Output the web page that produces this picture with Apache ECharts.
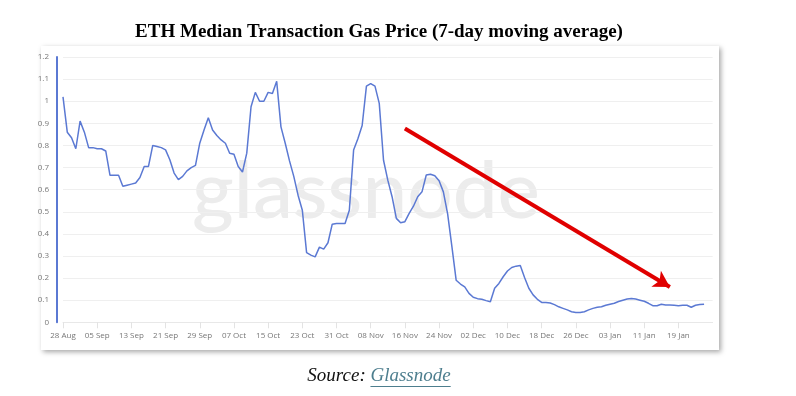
<!DOCTYPE html>
<html>
<head>
<meta charset="utf-8">
<script src="https://cdn.jsdelivr.net/npm/echarts@6/dist/echarts.min.js"></script>
<style>
  html, body { margin: 0; padding: 0; background: #fff; }
  #chart { width: 796px; height: 396px; }
</style>
</head>
<body>
<div id="chart"></div>
<script>
// daily values, starting 28 Aug
const gasPrice = [
  1.02, 0.86, 0.835, 0.785, 0.91, 0.86, 0.79, 0.79, 0.785, 0.785,
  0.775, 0.665, 0.665, 0.665, 0.615, 0.62, 0.625, 0.63, 0.655, 0.705,
  0.705, 0.80, 0.795, 0.79, 0.78, 0.735, 0.675, 0.645, 0.66, 0.685,
  0.70, 0.71, 0.81, 0.87, 0.925, 0.87, 0.845, 0.825, 0.81, 0.765,
  0.76, 0.705, 0.68, 0.765, 0.975, 1.04, 1.0, 1.0, 1.04, 1.035,
  1.09, 0.884, 0.81, 0.73, 0.66, 0.575, 0.507, 0.315, 0.304, 0.296,
  0.34, 0.331, 0.36, 0.444, 0.447, 0.447, 0.447, 0.507, 0.779, 0.83,
  0.89, 1.068, 1.08, 1.068, 0.99, 0.733, 0.643, 0.568, 0.47, 0.45,
  0.455, 0.493, 0.525, 0.568, 0.59, 0.666, 0.67, 0.663, 0.64, 0.59,
  0.49, 0.342, 0.19, 0.173, 0.16, 0.131, 0.113, 0.107, 0.104, 0.098,
  0.093, 0.154, 0.176, 0.206, 0.232, 0.248, 0.254, 0.257, 0.203, 0.154,
  0.124, 0.104, 0.09, 0.09, 0.087, 0.08, 0.07, 0.063, 0.056, 0.048,
  0.044, 0.044, 0.048, 0.056, 0.063, 0.068, 0.07, 0.077, 0.082, 0.086,
  0.094, 0.10, 0.105, 0.108, 0.105, 0.10, 0.095, 0.086, 0.075, 0.075,
  0.082, 0.078, 0.078, 0.077, 0.075, 0.077, 0.077, 0.068, 0.077, 0.08,
  0.082
];

// arrow drawn over the chart: [day index, value]
const arrowFrom = [80, 0.877];
const arrowTo = [142, 0.16];

const monthNames = ['Jan', 'Feb', 'Mar', 'Apr', 'May', 'Jun', 'Jul', 'Aug', 'Sep', 'Oct', 'Nov', 'Dec'];
const startDay = Date.UTC(2023, 7, 28);
const dayCount = 153; // axis runs two days past the last value

const dates = [];
for (let i = 0; i < dayCount; i++) {
  const d = new Date(startDay + i * 86400000);
  dates.push(String(d.getUTCDate()).padStart(2, '0') + ' ' + monthNames[d.getUTCMonth()]);
}

const blue = '#5b79d3';
const serif = '"Liberation Serif", "Times New Roman", serif';

// width of the link text, for its underline
const ctx = document.createElement('canvas').getContext('2d');
ctx.font = 'italic 19px ' + serif;
const linkWidth = ctx.measureText('Glassnode').width;
const srcWidth = ctx.measureText('Source: ').width;
const srcLeft = 379 - (srcWidth + linkWidth) / 2;

const chart = echarts.init(document.getElementById('chart'));

chart.setOption({
  animation: false,
  backgroundColor: '#fff',
  grid: { left: 63, right: 83.4, top: 57, bottom: 73.7 },
  xAxis: {
    type: 'category',
    data: dates,
    boundaryGap: false,
    axisLine: { lineStyle: { color: '#e8e8e8' } },
    axisTick: {
      interval: i => i % 8 === 0 && i <= 144,
      length: 6,
      lineStyle: { color: '#e3e3e3' }
    },
    axisLabel: {
      interval: i => i % 8 === 0 && i <= 144,
      color: '#777',
      fontSize: 8,
      fontFamily: 'Open Sans',
      margin: 9
    },
    splitLine: { show: false }
  },
  yAxis: {
    type: 'value',
    min: 0,
    max: 1.2,
    interval: 0.1,
    offset: 6,
    axisLine: { show: true, lineStyle: { color: blue, width: 2 } },
    axisTick: { show: false },
    axisLabel: { color: '#777', fontSize: 8, fontFamily: 'Open Sans', margin: 8 },
    splitLine: { lineStyle: { color: '#efefef' } }
  },
  series: [{
    type: 'line',
    data: gasPrice,
    symbol: 'none',
    lineStyle: { color: blue, width: 1.5 },
    markLine: {
      silent: true,
      animation: false,
      symbol: ['none', 'arrow'],
      symbolSize: [14, 16],
      label: { show: false },
      lineStyle: { color: '#e00000', width: 4, type: 'solid' },
      emphasis: { disabled: true },
      data: [[{ coord: arrowFrom }, { coord: arrowTo }]]
    }
  }],
  graphic: [
    {
      type: 'rect',
      z: -2,
      shape: { x: 41, y: 46, width: 678, height: 304 },
      style: {
        fill: '#fff',
        shadowBlur: 5,
        shadowOffsetX: 2,
        shadowOffsetY: 2,
        shadowColor: 'rgba(0,0,0,0.35)'
      }
    },
    {
      type: 'text',
      z: -1,
      x: 366,
      y: 192,
      style: {
        text: 'glassnode',
        fontSize: 80,
        fontWeight: 500,
        fontFamily: 'Lato',
        fill: '#ececec',
        textAlign: 'center',
        align: 'center',
        textVerticalAlign: 'middle',
        verticalAlign: 'middle'
      }
    },
    {
      type: 'text',
      x: 379,
      y: 32,
      style: {
        text: 'ETH Median Transaction Gas Price (7-day moving average)',
        fontSize: 19,
        fontWeight: 'bold',
        fontFamily: serif,
        fill: '#000',
        textAlign: 'center',
        align: 'center',
        textVerticalAlign: 'middle',
        verticalAlign: 'middle'
      }
    },
    {
      type: 'text',
      x: srcLeft,
      y: 376,
      style: {
        text: 'Source: ',
        fontSize: 19,
        fontStyle: 'italic',
        fontFamily: serif,
        fill: '#111',
        textAlign: 'left',
        align: 'left',
        textVerticalAlign: 'middle',
        verticalAlign: 'middle'
      }
    },
    {
      type: 'text',
      x: srcLeft + srcWidth,
      y: 376,
      style: {
        text: 'Glassnode',
        fontSize: 19,
        fontStyle: 'italic',
        fontFamily: serif,
        fill: '#4d7e8e',
        textAlign: 'left',
        align: 'left',
        textVerticalAlign: 'middle',
        verticalAlign: 'middle'
      }
    },
    {
      type: 'line',
      shape: { x1: srcLeft + srcWidth, y1: 386.5, x2: srcLeft + srcWidth + linkWidth, y2: 386.5 },
      style: { stroke: '#4d7e8e', lineWidth: 1 }
    }
  ]
});
</script>
</body>
</html>
